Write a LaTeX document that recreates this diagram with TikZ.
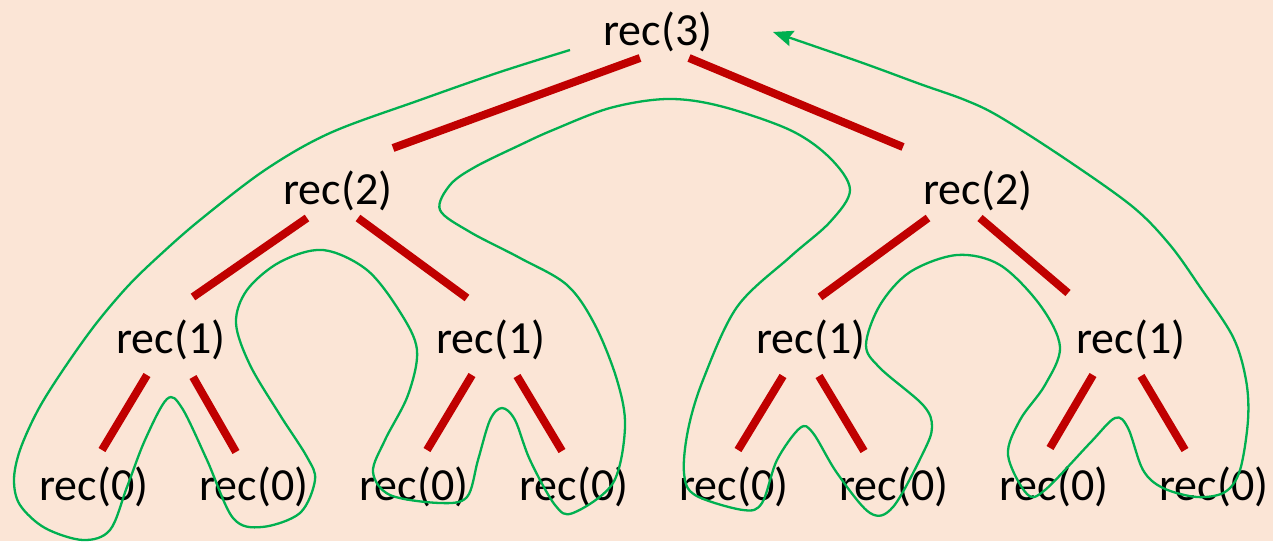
\documentclass[tikz,border=0pt]{standalone}
\usepackage{fontspec}
\setmainfont{Carlito}
\usetikzlibrary{arrows.meta}
\definecolor{bgpeach}{HTML}{FBE5D6}
\definecolor{treered}{HTML}{C00000}
\definecolor{walkgreen}{HTML}{00B050}
\tikzset{
  lbl/.style={inner sep=0pt, font=\fontsize{46}{52}\selectfont},
  branch/.style={draw=treered, line width=8pt, line cap=butt},
  walk/.style={draw=walkgreen, line width=2.3pt, line join=round}
}
\begin{document}
\begin{tikzpicture}[x=1pt,y=-1pt]
\fill[bgpeach] (0,0) rectangle (1273,541);
\useasboundingbox (0,0) rectangle (1273,541);
% nodes
\node[lbl] (r3) at (658,32) {rec(3)};
\node[lbl] (r2a) at (338,191) {rec(2)};
\node[lbl] (r2b) at (978,191) {rec(2)};
\node[lbl] (r1a) at (171,340) {rec(1)};
\node[lbl] (r1b) at (491,340) {rec(1)};
\node[lbl] (r1c) at (811,340) {rec(1)};
\node[lbl] (r1d) at (1131,340) {rec(1)};
\node[lbl] (r0a) at (94,487) {rec(0)};
\node[lbl] (r0b) at (254,487) {rec(0)};
\node[lbl] (r0c) at (414,487) {rec(0)};
\node[lbl] (r0d) at (574,487) {rec(0)};
\node[lbl] (r0e) at (734,487) {rec(0)};
\node[lbl] (r0f) at (894,487) {rec(0)};
\node[lbl] (r0g) at (1054,487) {rec(0)};
\node[lbl] (r0h) at (1214,487) {rec(0)};
% branches
\draw[branch] ([shift={(-18,26)}]r3.center) -- ([shift={(55,-43)}]r2a.center);
\draw[branch] ([shift={(31,26)}]r3.center) -- ([shift={(-75,-44)}]r2b.center);
\draw[branch] ([shift={(-31,27)}]r2a.center) -- ([shift={(22,-43)}]r1a.center);
\draw[branch] ([shift={(20,27)}]r2a.center) -- ([shift={(-24,-42)}]r1b.center);
\draw[branch] ([shift={(-50,27)}]r2b.center) -- ([shift={(9,-43)}]r1c.center);
\draw[branch] ([shift={(2,27)}]r2b.center) -- ([shift={(-63,-47)}]r1d.center);
\draw[branch] ([shift={(-24,35)}]r1a.center) -- ([shift={(8,-37)}]r0a.center);
\draw[branch] ([shift={(22,37)}]r1a.center) -- ([shift={(-18,-35)}]r0b.center);
\draw[branch] ([shift={(-19,35)}]r1b.center) -- ([shift={(13,-37)}]r0c.center);
\draw[branch] ([shift={(26,36)}]r1b.center) -- ([shift={(-12,-36)}]r0d.center);
\draw[branch] ([shift={(-28,36)}]r1c.center) -- ([shift={(4,-37)}]r0e.center);
\draw[branch] ([shift={(8,36)}]r1c.center) -- ([shift={(-30,-36)}]r0f.center);
\draw[branch] ([shift={(-38,35)}]r1d.center) -- ([shift={(-4,-39)}]r0g.center);
\draw[branch] ([shift={(10,36)}]r1d.center) -- ([shift={(-29,-37)}]r0h.center);
% walk
\coordinate (gstart) at (570,50);
\coordinate (gend) at (773,32);
\draw[walk, -{Stealth[length=20pt,width=16pt,inset=3pt]}] plot[smooth, tension=0.55] coordinates {
(gstart) (500,72) (420,100) (330,133) (265,170) (200,220) (160,255) (128,286) (95,325)
(63,370) (38,410) (20,450) (14,480) (20,505) (45,528) (83,540) (110,530) (127,487)
(145,440) (167,399) (182,408) (207,460) (233,518) (262,527) (300,513) (315,480) (307,457)
(280,415) (250,365) (236,323) (247,290) (280,262) (323,250) (367,270) (400,312) (417,350)
(408,395) (385,440) (373,472) (390,495) (440,503) (467,497) (478,460) (490,420) (502,408)
(515,420) (530,460) (555,505) (573,513) (613,483) (625,427) (617,380) (595,325) (567,285)
(520,258) (470,232) (440,210) (450,185) (475,167) (520,145) (553,130) (610,108) (667,99)
(720,106) (790,130) (830,158) (850,190) (830,222) (790,257) (737,307) (703,380) (688,430)
(684,473) (695,495) (743,510) (762,503) (777,460) (800,428) (813,433) (837,473) (870,513)
(893,507) (923,453) (932,427) (923,405) (880,368) (866,345) (880,305) (910,272) (957,255)
(1000,265) (1040,305) (1060,347) (1045,385) (1020,420) (1008,455) (1027,494) (1045,490)
(1090,443) (1115,418) (1128,428) (1143,470) (1163,488) (1197,497) (1225,492) (1240,470)
(1248,420) (1246,380) (1233,337) (1200,287) (1170,245) (1133,207) (1067,160) (1000,117)
(965,100) (920,84) (860,62) (gend)};
\end{tikzpicture}
\end{document}
